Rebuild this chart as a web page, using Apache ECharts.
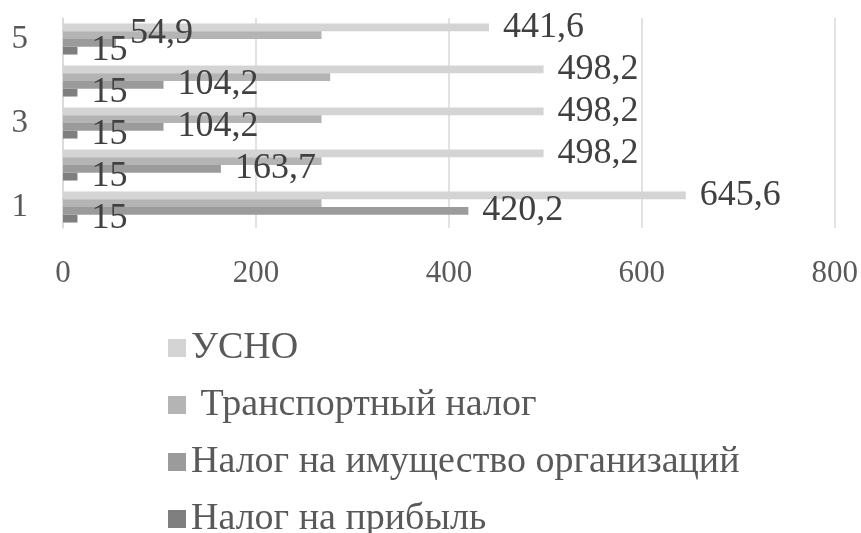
<!DOCTYPE html>
<html>
<head>
<meta charset="utf-8">
<script src="https://cdn.jsdelivr.net/npm/echarts@6/dist/echarts.min.js"></script>
<style>
  html, body { margin: 0; padding: 0; background: #fff; }
  #chart { width: 861px; height: 533px; }
</style>
</head>
<body>
<div id="chart"></div>
<script>
// categories (periods 1..5)
const categories = ["1", "2", "3", "4", "5"];
// series values
const usno = [645.6, 498.2, 498.2, 498.2, 441.6];
const transport = [268, 268, 268, 277, 268];
const imush = [420.2, 163.7, 104.2, 104.2, 54.9];
const pribyl = [15, 15, 15, 15, 15];
const seriesNames = ["УСНО", " Транспортный налог", "Налог на имущество организаций", "Налог на прибыль"];
const xTicks = [0, 200, 400, 600, 800];

const font = "'Liberation Serif', 'Times New Roman', serif";

let chart = echarts.init(document.getElementById("chart"));

function numLabel(show) {
  return {
    show: show,
    position: "right",
    distance: 14,
    color: "#404040",
    fontFamily: font,
    fontSize: 36,
    formatter: function (p) {
      return String(p.value).replace(".", ",");
    },
  };
}

let option = {
  animation: false,
  color: ["#d4d4d4", "#b4b4b4", "#9b9b9b", "#7f7f7f"],
  grid: {
    left: 63,
    right: 24,
    top: 18,
    bottom: 305,
  },
  xAxis: {
    type: "value",
    min: xTicks[0],
    max: xTicks[xTicks.length - 1],
    interval: 200,
    axisLine: { show: false },
    axisTick: { show: false },
    splitLine: { lineStyle: { color: "#d9d9d9", width: 1.5 } },
    axisLabel: {
      color: "#595959",
      fontFamily: font,
      fontSize: 31,
      margin: 30,
    },
  },
  yAxis: {
    type: "category",
    data: categories,
    axisTick: { show: false },
    axisLine: { show: true, lineStyle: { color: "#d9d9d9", width: 1.5 } },
    axisLabel: {
      interval: 1,
      color: "#595959",
      fontFamily: font,
      fontSize: 33,
      margin: 35,
      padding: [14, 0, 0, 0],
    },
  },
  legend: {
    orient: "vertical",
    left: 168,
    top: 328,
    height: 300,
    padding: 0,
    itemWidth: 18,
    itemHeight: 18,
    itemGap: 17,
    itemTextGap: 6,
    icon: "rect",
    textStyle: {
      color: "#595959",
      fontFamily: font,
      fontSize: 38,
      lineHeight: 40,
    },
    data: seriesNames,
  },
  series: [
    {
      name: seriesNames[0],
      type: "bar",
      barGap: "0%",
      barCategoryGap: "26%",
      label: numLabel(true),
      data: usno,
    },
    {
      name: seriesNames[1],
      type: "bar",
      label: numLabel(false),
      data: transport,
    },
    {
      name: seriesNames[2],
      type: "bar",
      label: numLabel(true),
      // last label sits higher in the original so it clears the "15"
      data: imush.map((v, i) => (i === 4 ? { value: v, label: { offset: [0, -9] } } : v)),
    },
    {
      name: seriesNames[3],
      type: "bar",
      label: numLabel(true),
      data: pribyl,
    },
  ],
};

chart.setOption(option);
</script>
</body>
</html>
